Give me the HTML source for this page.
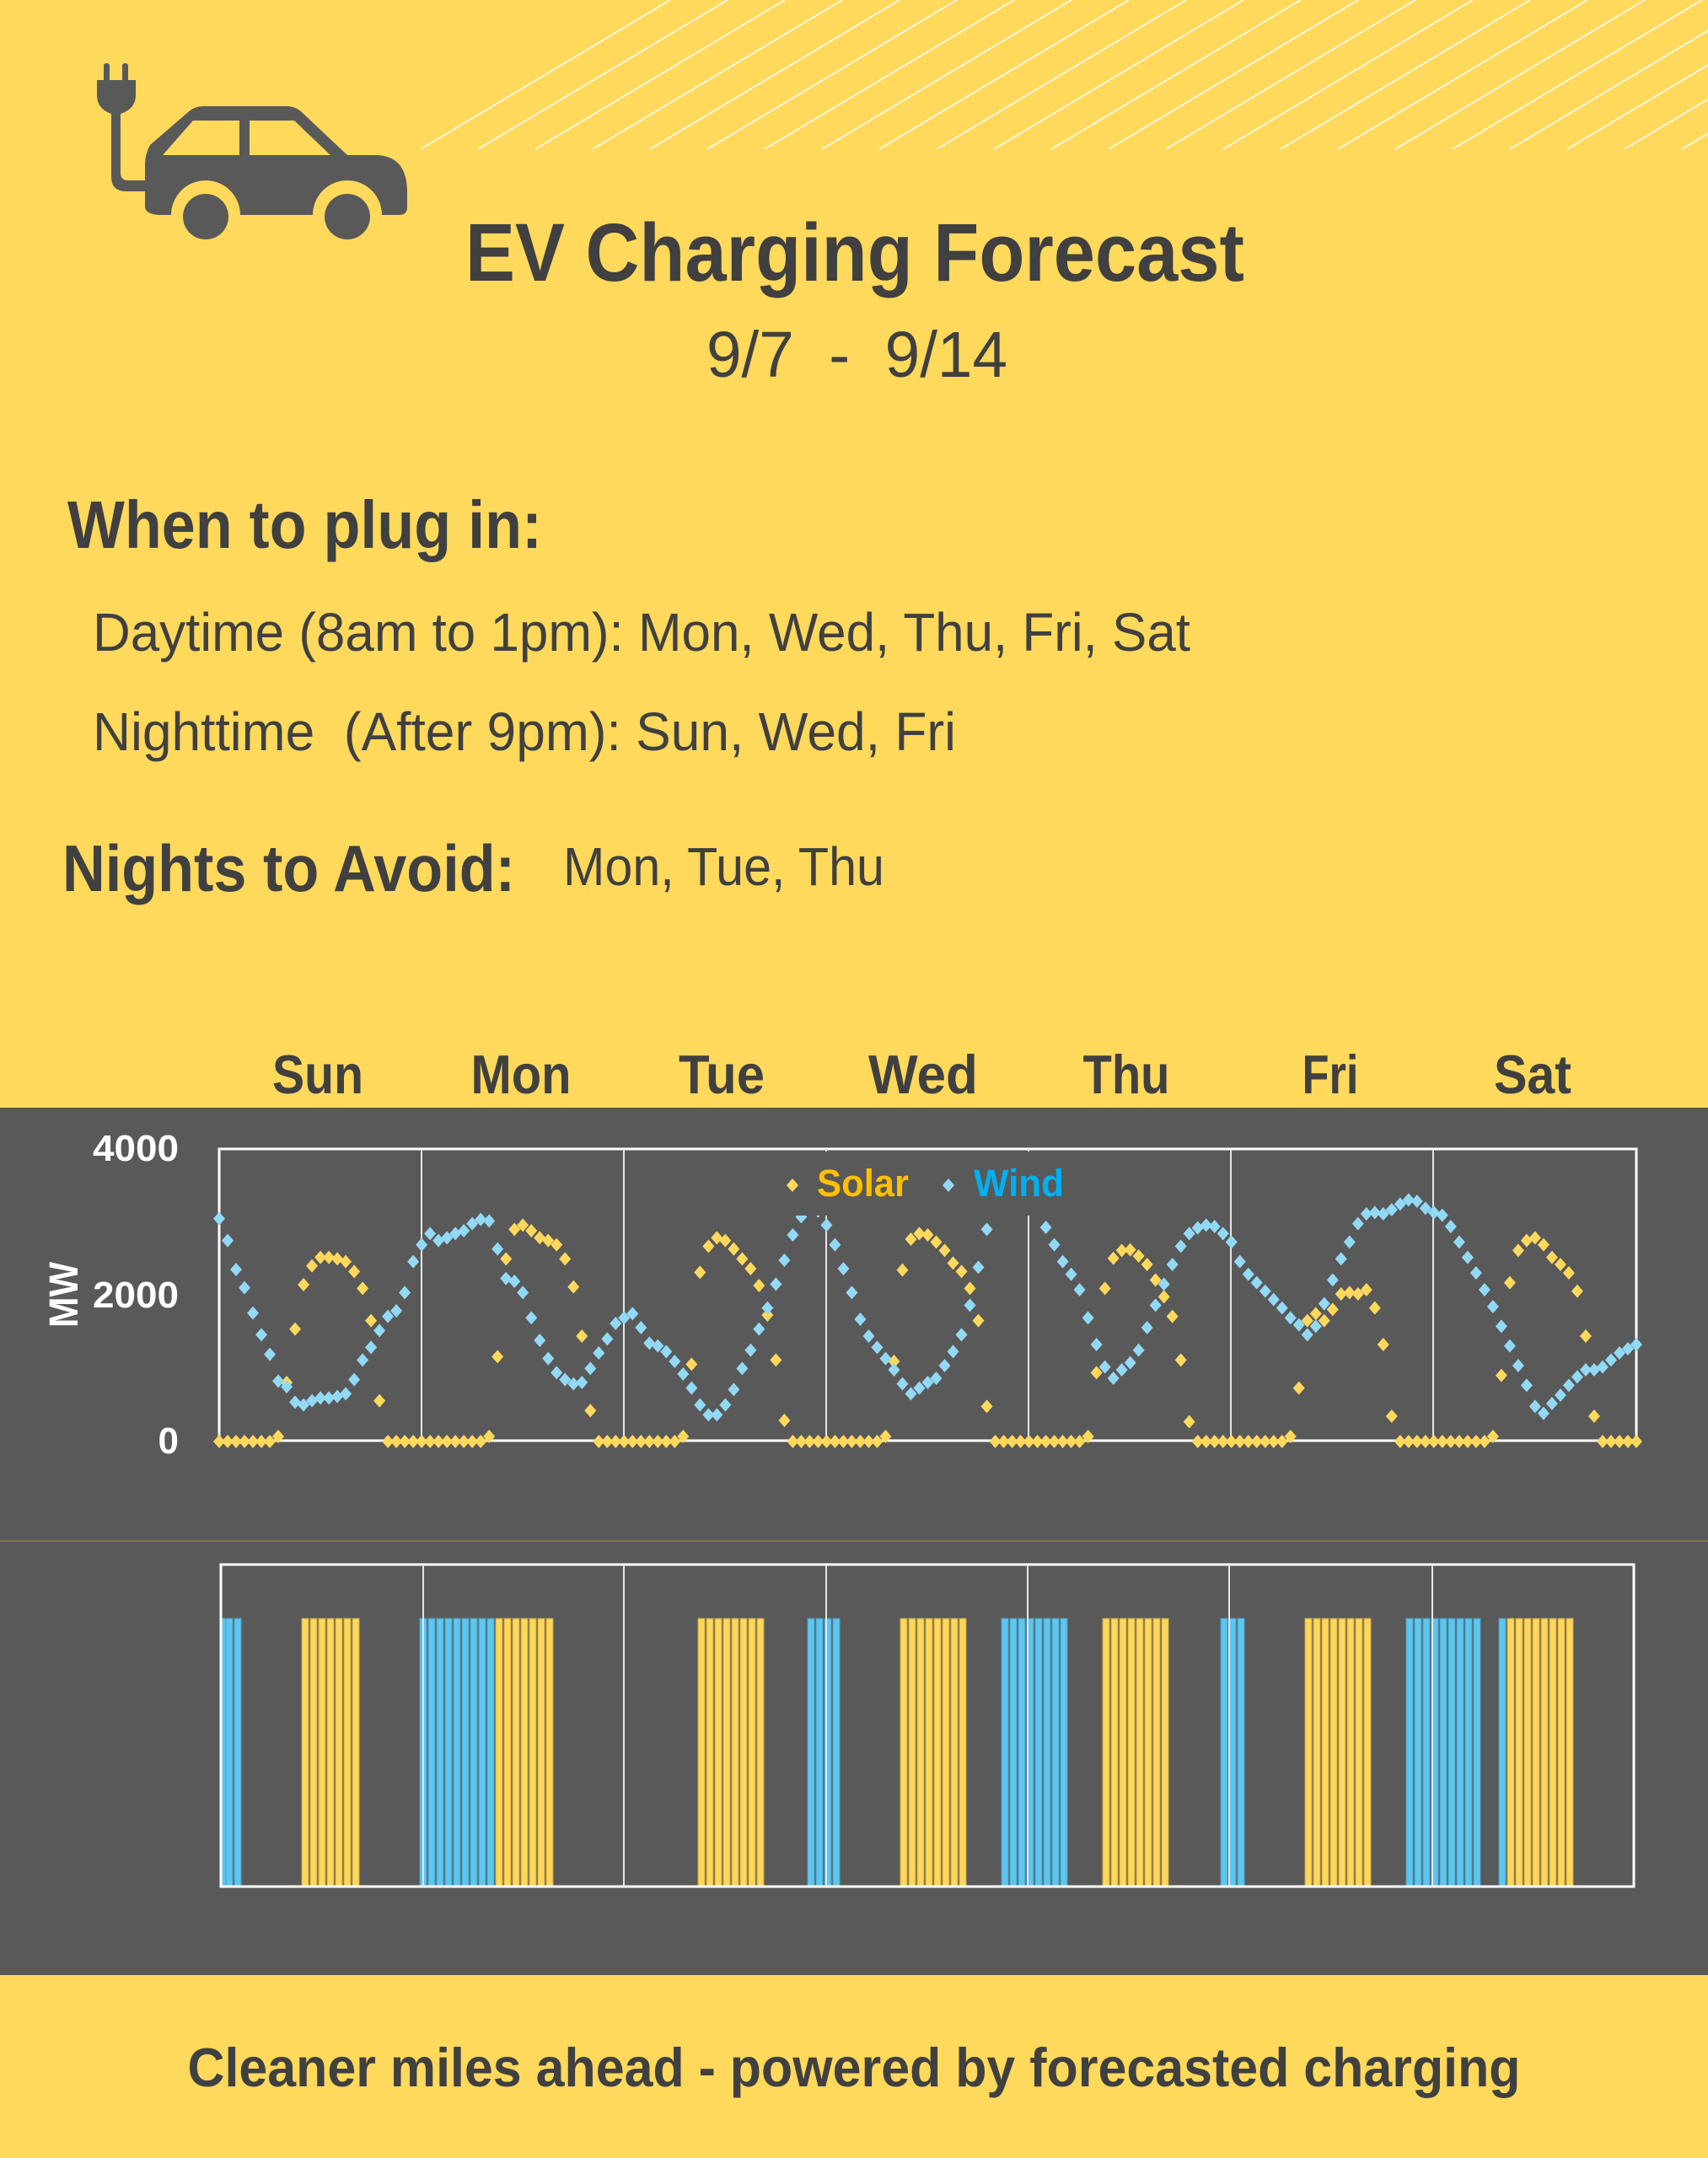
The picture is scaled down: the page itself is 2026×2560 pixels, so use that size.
<!DOCTYPE html>
<html><head><meta charset="utf-8">
<style>
html,body{margin:0;padding:0;background:#FED95C;}
svg{display:block;}
text{font-family:"Liberation Sans",sans-serif;}
</style></head>
<body>
<svg id="s" xmlns="http://www.w3.org/2000/svg" width="2026" height="2560" viewBox="0 0 2026 2560">
<rect x="0" y="0" width="2026" height="2560" fill="#FED95C"/>
<defs><clipPath id="hc"><rect x="490" y="0" width="1536" height="180"/></clipPath></defs>
<g id="hatch" clip-path="url(#hc)" stroke="#FFF6D8" stroke-width="2"></g>
<!-- car icon -->
<g fill="#595959">
<rect x="123" y="75" width="7" height="25" rx="3"/>
<rect x="145" y="75" width="7" height="25" rx="3"/>
<path d="M115,95 H161 V113 Q161,129 143,135 H132 Q115,129 115,113 Z"/>
<path d="M132,130 V210 Q132,227 150,227 H174 V214 H152 Q143,214 143,205 V130 Z"/>
<path d="M172,245 V195 Q172,183 178,172 L222,134 Q230,126 242,126 H340 Q352,126 361,136 L412,184 H448 Q483,186 483,228 V246 Q483,255 473,255 H453 A41,41 0 0 0 371,255 H285 A41,41 0 0 0 203,255 H192 Q172,255 172,245 Z"/>
<circle cx="244" cy="257" r="27"/>
<circle cx="412" cy="257" r="27"/>
</g>
<g fill="#FED95C">
<path d="M193,184 L229,143 H284 V184 Z"/>
<path d="M296,143 H349 L392,184 H296 Z"/>
</g>
<g fill="#404040">
<text x="552" y="333" font-size="97" font-weight="bold" textLength="924" lengthAdjust="spacingAndGlyphs">EV Charging Forecast</text>
<text x="838" y="447" font-size="77" textLength="357" lengthAdjust="spacingAndGlyphs">9/7 &#160;-&#160; 9/14</text>
<text x="80" y="650" font-size="80" font-weight="bold" textLength="563" lengthAdjust="spacingAndGlyphs">When to plug in:</text>
<text x="110" y="772" font-size="64" textLength="1302" lengthAdjust="spacingAndGlyphs">Daytime (8am to 1pm): Mon, Wed, Thu, Fri, Sat</text>
<text x="110" y="890" font-size="64" textLength="1024" lengthAdjust="spacingAndGlyphs">Nighttime &#160;(After 9pm): Sun, Wed, Fri</text>
<text x="74" y="1057" font-size="78" font-weight="bold" textLength="537" lengthAdjust="spacingAndGlyphs">Nights to Avoid:</text>
<text x="668" y="1050" font-size="64" textLength="381" lengthAdjust="spacingAndGlyphs">Mon, Tue, Thu</text>
<g font-size="65" font-weight="bold" text-anchor="middle">
<text x="377" y="1297" textLength="108" lengthAdjust="spacingAndGlyphs">Sun</text>
<text x="618" y="1297" textLength="119" lengthAdjust="spacingAndGlyphs">Mon</text>
<text x="856" y="1297" textLength="102" lengthAdjust="spacingAndGlyphs">Tue</text>
<text x="1095" y="1297" textLength="130" lengthAdjust="spacingAndGlyphs">Wed</text>
<text x="1336" y="1297" textLength="103" lengthAdjust="spacingAndGlyphs">Thu</text>
<text x="1578" y="1297" textLength="67" lengthAdjust="spacingAndGlyphs">Fri</text>
<text x="1818" y="1297" textLength="92" lengthAdjust="spacingAndGlyphs">Sat</text>
</g>
<text x="1013" y="2475" font-size="65" font-weight="bold" text-anchor="middle" textLength="1581" lengthAdjust="spacingAndGlyphs">Cleaner miles ahead - powered by forecasted charging</text>
</g>
<!-- dark band -->
<rect x="0" y="1314" width="2026" height="1029" fill="#595959"/>
<line x1="0" y1="1828" x2="2026" y2="1828" stroke="#8f8049" stroke-width="1.5"/>
<!-- axis labels -->
<g fill="#FFFFFF" font-weight="bold" font-size="44" text-anchor="end">
<text x="212" y="1377" textLength="102" lengthAdjust="spacingAndGlyphs">4000</text>
<text x="212" y="1551" textLength="102" lengthAdjust="spacingAndGlyphs">2000</text>
<text x="212" y="1724">0</text>
</g>
<text transform="translate(92,1536) rotate(-90)" fill="#FFFFFF" font-weight="bold" font-size="48" text-anchor="middle" textLength="78" lengthAdjust="spacingAndGlyphs">MW</text>
<!-- plot frame -->
<g stroke="#FFFFFF" fill="none">
<rect x="260" y="1363" width="1681" height="346" stroke-width="3"/>
<g stroke-width="2" stroke="#E6E6E6">
<line x1="500" y1="1363" x2="500" y2="1709"/>
<line x1="740" y1="1363" x2="740" y2="1709"/>
<line x1="980" y1="1363" x2="980" y2="1709"/>
<line x1="1220" y1="1363" x2="1220" y2="1709"/>
<line x1="1460" y1="1363" x2="1460" y2="1709"/>
<line x1="1700" y1="1363" x2="1700" y2="1709"/>
</g>
</g>
<g id="pts"></g>
<!-- legend -->
<rect x="925" y="1366" width="360" height="76" fill="#595959"/>
<path d="M940,1398 L947,1406 L940,1414 L933,1406 Z" fill="#FFD85C"/>
<text x="969" y="1419" fill="#FFC000" font-size="45" font-weight="bold" textLength="109" lengthAdjust="spacingAndGlyphs">Solar</text>
<path d="M1125,1398 L1132,1406 L1125,1414 L1118,1406 Z" fill="#92D9F6"/>
<text x="1155" y="1419" fill="#00B0F0" font-size="45" font-weight="bold" textLength="107" lengthAdjust="spacingAndGlyphs">Wind</text>
<!-- bar chart -->
<g id="bars"></g>
<g stroke="#FFFFFF" fill="none">
<rect x="262" y="1856" width="1676" height="382" stroke-width="3"/>
<g stroke-width="2" stroke="#E6E6E6">
<line x1="502" y1="1856" x2="502" y2="2238"/>
<line x1="740" y1="1856" x2="740" y2="2238"/>
<line x1="980" y1="1856" x2="980" y2="2238"/>
<line x1="1219" y1="1856" x2="1219" y2="2238"/>
<line x1="1458" y1="1856" x2="1458" y2="2238"/>
<line x1="1699" y1="1856" x2="1699" y2="2238"/>
</g>
</g>
</svg>
<script>
(function(){
var NS="http://www.w3.org/2000/svg";
var hatch=document.getElementById("hatch");
for(var k=0;k<26;k++){var x0=499+68*k;var l=document.createElementNS(NS,"line");
l.setAttribute("x1",x0);l.setAttribute("y1",177);l.setAttribute("x2",x0+296);l.setAttribute("y2",0);hatch.appendChild(l);}
var wind=[437,515,618,683,773,850,920,1015,1035,1090,1100,1085,1075,1075,1070,1060,1010,940,895,835,785,765,700,590,530,
490,515,505,490,480,455,440,445,545,650,660,700,790,870,935,985,1010,1025,1020,970,915,865,810,790,775,
825,880,890,910,945,990,1040,1100,1135,1135,1100,1045,970,905,830,755,670,585,495,430,400,410,
460,530,615,700,795,855,895,935,975,1025,1060,1040,1020,1005,960,910,850,745,610,475,400,400,400,400,400,400,
468,530,590,635,690,790,885,965,1005,975,950,905,825,745,670,600,535,490,470,460,465,490,
520,590,635,665,695,725,755,790,815,850,820,740,655,580,520,455,420,415,420,405,385,370,375,400,
415,425,465,520,575,630,690,750,820,890,960,1030,1105,1130,1095,1065,1030,1000,975,975,965,940,915,900,885];
var Z=1230,B=1212,solar=[];
function z(n){for(var i=0;i<n;i++)solar.push(Z);}
function a(arr){for(var i=0;i<arr.length;i++)solar.push(arr[i]);}
z(7);a([B,1020,830,672,605,575,575,580,590,625,685,800,1085]);z(4);
z(8);a([B,928,580,475,460,480,505,515,530,580,680,855,1120]);z(10);
a([B,955,628,535,505,515,545,580,615,675,780,940,1155]);z(11);
a([B,945,620,510,490,495,520,550,595,625,685,800,1105]);z(11);
a([B,985,685,578,550,548,570,600,655,715,785,940,1160]);z(11);
a([B,1040,800,775,800,760,705,700,705,690,755,885,1140]);z(11);
a([B,995,665,550,515,505,530,575,600,630,695,855,1140]);
while(solar.length<169)solar.push(Z);
var g=document.getElementById("pts");
function dia(x,y,c){var p=document.createElementNS(NS,"path");
p.setAttribute("d","M"+x+","+(y-8)+" L"+(x+7)+","+y+" L"+x+","+(y+8)+" L"+(x-7)+","+y+" Z");
p.setAttribute("fill",c);g.appendChild(p);}
for(var h=0;h<169;h++){var x=260+h*1681/168;dia(x,1300+solar[h]/3,"#FFD85C");}
for(var h=0;h<wind.length;h++){var x=260+h*1681/168;dia(x,1300+wind[h]/3,"#92D9F6");}
var bars=document.getElementById("bars");
function bar(h,fill,st){var r=document.createElementNS(NS,"rect");var x=258+10*h;if(x<262)x=262;
r.setAttribute("x",x);r.setAttribute("y",1920);r.setAttribute("width",8);r.setAttribute("height",318);
r.setAttribute("fill",fill);r.setAttribute("stroke",st);r.setAttribute("stroke-width","1");bars.appendChild(r);}
var blue=[[0,2],[24,32],[70,73],[93,100],[119,121],[141,149],[152,152]];
var yel=[[10,16],[33,39],[57,64],[81,88],[105,112],[129,136],[153,160]];
blue.forEach(function(r){for(var h=r[0];h<=r[1];h++)bar(h,"#5DC6EE","#4A9FC2");});
yel.forEach(function(r){for(var h=r[0];h<=r[1];h++)bar(h,"#FFD75B","#C9A640");});
})();
</script>
</body></html>
